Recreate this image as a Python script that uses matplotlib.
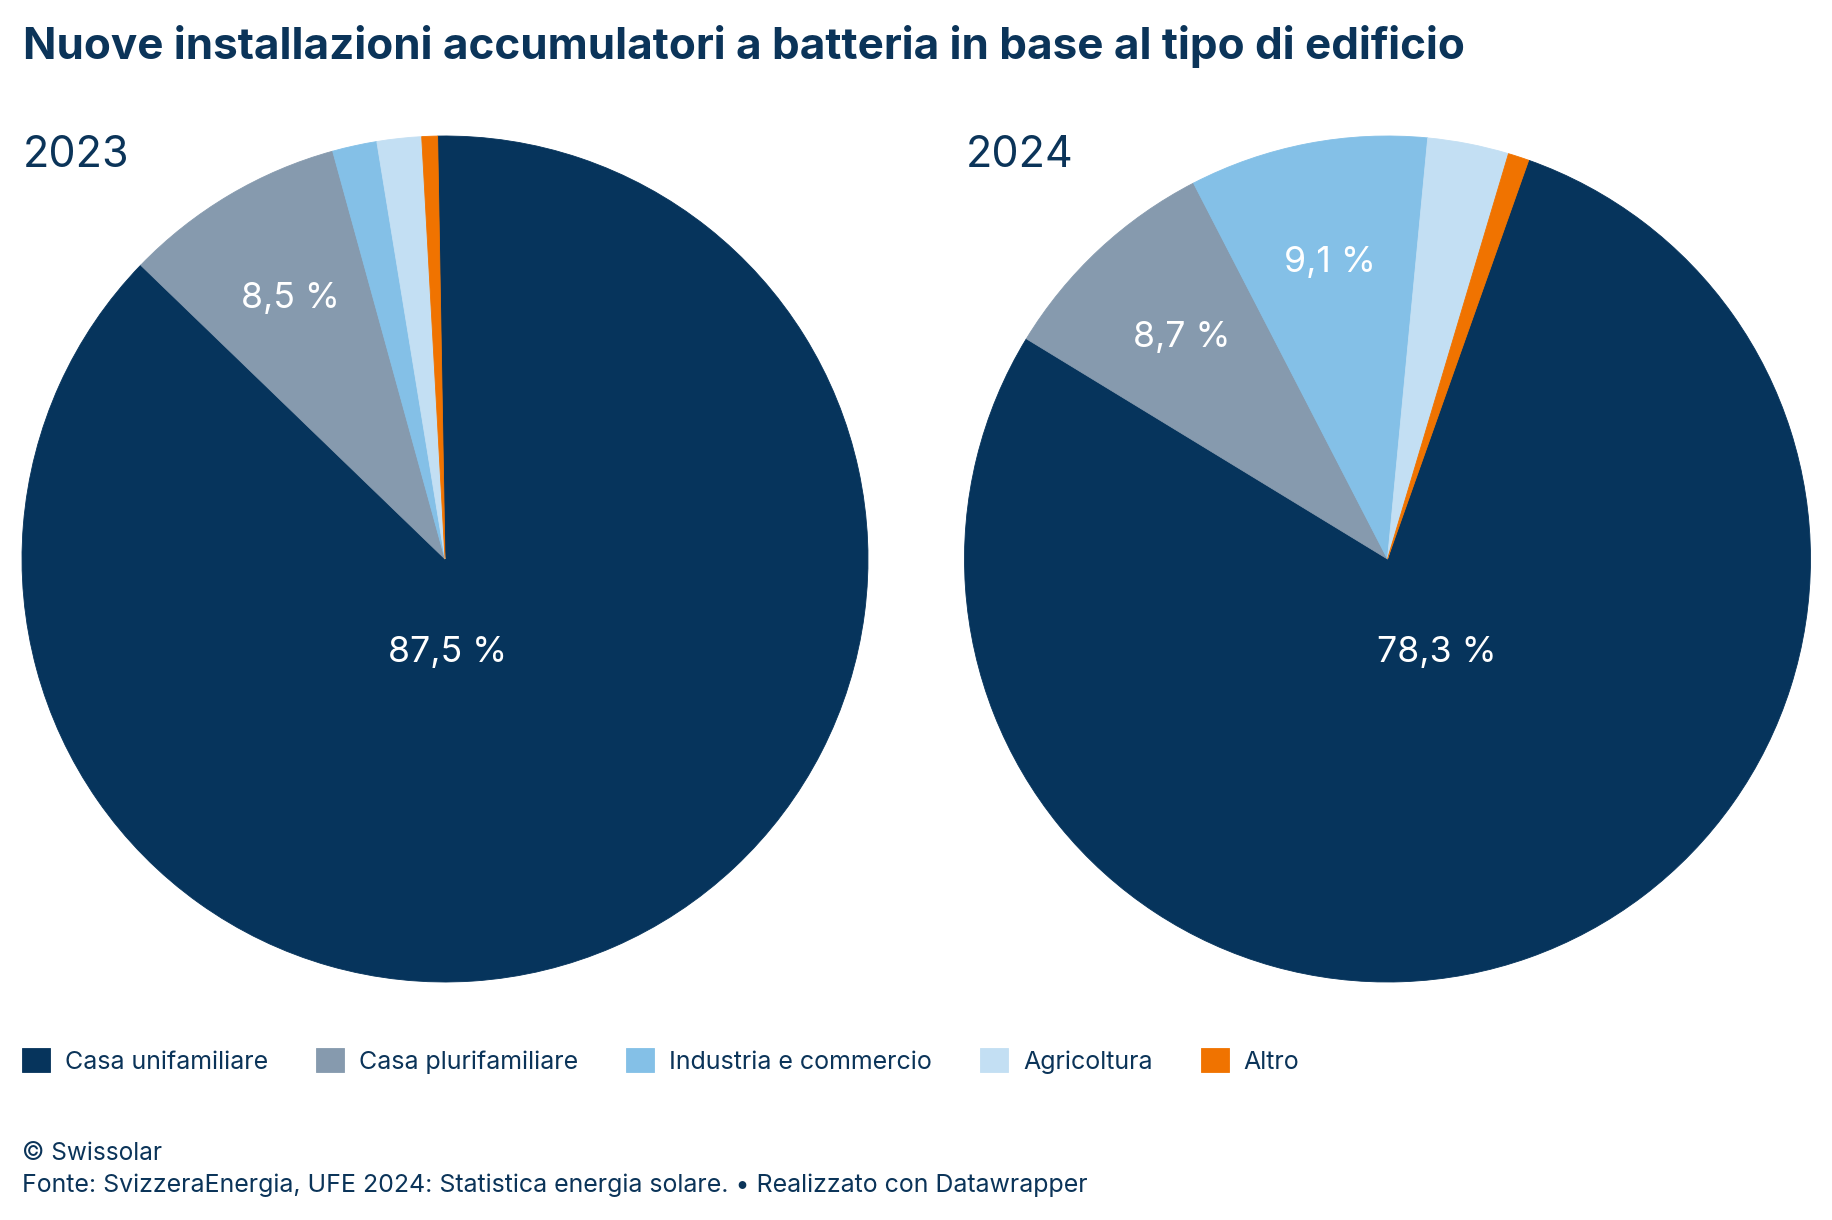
import matplotlib
matplotlib.use("Agg")
import matplotlib.pyplot as plt
import numpy as np

# ---------------- data ----------------
categories = ["Casa unifamiliare", "Casa plurifamiliare", "Industria e commercio",
              "Agricoltura", "Altro"]
years = ["2023", "2024"]
values_2023 = [87.5, 8.5, 1.7, 1.7, 0.6]
values_2024 = [78.3, 8.7, 9.1, 3.1, 0.8]
labelled_2023 = [True, True, False, False, False]
labelled_2024 = [True, True, True, False, False]
colors = ["#06345c", "#869aae", "#84c0e7", "#c3dff3", "#f07300"]

title = "Nuove installazioni accumulatori a batteria in base al tipo di edificio"
credit = "© Swissolar"
source = "Fonte: SvizzeraEnergia, UFE 2024: Statistica energia solare. • Realizzato con Datawrapper"

# ---------------- layout ----------------
W, H = 1832, 1220
TEXT = "#0b3459"
FONT = ["Inter", "Roboto", "DejaVu Sans"]
plt.rcParams["font.family"] = FONT

fig = plt.figure(figsize=(W / 100, H / 100), dpi=100)
fig.patch.set_facecolor("white")


def fx(px):
    return px / W


def fy(py):
    return 1 - py / H


renderer = fig.canvas.get_renderer()


def fit_width(t, target_px):
    w = t.get_window_extent(renderer).width
    t.set_fontsize(t.get_fontsize() * target_px / w)


CY, R = 559, 423
pies = [
    dict(values=values_2023, labelled=labelled_2023, year=years[0], cx=445.0,
         start=-1.0, big_xy=(0.005, -0.22)),
    dict(values=values_2024, labelled=labelled_2024, year=years[1], cx=1387.5,
         start=19.5, big_xy=(0.117, -0.22)),
]

first_wedges = None
for p in pies:
    ax = fig.add_axes([fx(p["cx"] - R), fy(CY + R), 2 * R / W, 2 * R / H])
    wedges, _ = ax.pie(p["values"], colors=colors, startangle=90 - p["start"],
                       counterclock=False, radius=1.0,
                       wedgeprops=dict(linewidth=0.6))
    for w in wedges:
        w.set_edgecolor(w.get_facecolor())
    ax.set_xlim(-1, 1)
    ax.set_ylim(-1, 1)
    ax.set_aspect("equal")
    ax.axis("off")
    if first_wedges is None:
        first_wedges = wedges
    for i, (w, v, lab) in enumerate(zip(wedges, p["values"], p["labelled"])):
        if not lab:
            continue
        txt = f"{v:.1f}".replace(".", ",") + " %"
        if i == 0:
            x, y = p["big_xy"]
        else:
            mid = np.deg2rad((w.theta1 + w.theta2) / 2)
            x, y = 0.715 * np.cos(mid), 0.715 * np.sin(mid)
        ax.text(x, y, txt, ha="center", va="center", color="white",
                fontsize=25.7, fontweight="normal")
    fig.text(fx(p["cx"] - R + 1), fy(167), p["year"], ha="left", va="baseline",
             color=TEXT, fontsize=31, fontweight="normal")

t_title = fig.text(fx(23), fy(59), title, ha="left", va="baseline",
                   color=TEXT, fontsize=28, fontweight="bold")
fit_width(t_title, 1440)

fs_leg = 18
px_leg = fs_leg * 100 / 72
leg = fig.legend(handles=first_wedges, labels=categories, loc="upper left",
                 bbox_to_anchor=(fx(22), fy(1048)), ncol=5, frameon=False,
                 fontsize=fs_leg, labelcolor=TEXT,
                 handlelength=28 / px_leg,
                 handleheight=28 / px_leg,
                 handletextpad=15 / px_leg,
                 columnspacing=48 / px_leg,
                 borderpad=0, borderaxespad=0)

t_cred = fig.text(fx(22), fy(1153), credit, ha="left", va="center", color=TEXT,
                  fontsize=16.5)
fit_width(t_cred, 140)
t_src = fig.text(fx(22), fy(1185), source, ha="left", va="center", color=TEXT,
                 fontsize=16.5)
fit_width(t_src, 1065)

fig.savefig("out.png", dpi=100, facecolor="white")
